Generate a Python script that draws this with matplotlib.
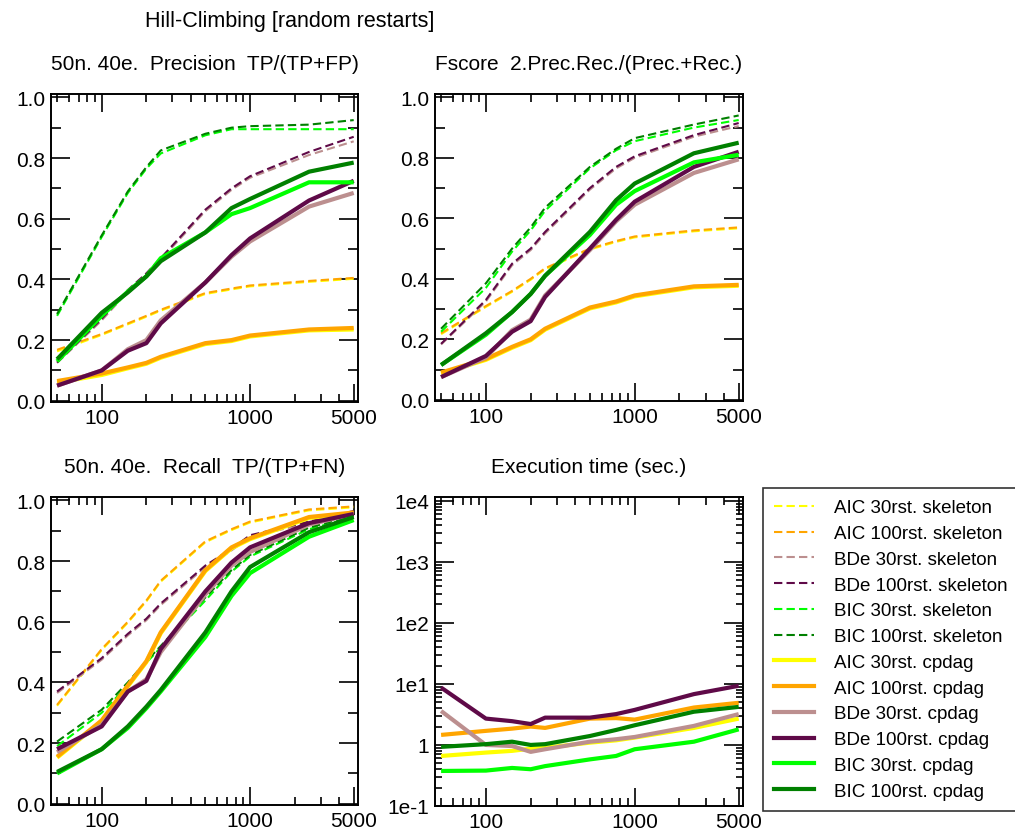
import numpy as np
import matplotlib
matplotlib.use("Agg")
import matplotlib.pyplot as plt
from matplotlib.ticker import FixedLocator, NullFormatter, LogLocator, FixedFormatter

plt.rcParams["font.family"] = ["Liberation Sans", "DejaVu Sans"]

# sample sizes
sizes = [50, 100, 150, 200, 250, 500, 750, 1000, 2500, 5000]

methods = ["AIC 30rst.", "AIC 100rst.", "BDe 30rst.", "BDe 100rst.", "BIC 30rst.", "BIC 100rst."]
colors = ["#ffff00", "#ffa500", "#bc8f8f", "#5f0a48", "#00ff00", "#008000"]

# Precision  (rows follow `methods`)
precision_skeleton = [
    [0.163, 0.217, 0.252, 0.277, 0.297, 0.352, 0.367, 0.377, 0.392, 0.402],
    [0.168, 0.22, 0.255, 0.28, 0.30, 0.355, 0.37, 0.38, 0.395, 0.405],
    [0.125, 0.265, 0.36, 0.415, 0.465, 0.625, 0.695, 0.735, 0.81, 0.855],
    [0.126, 0.27, 0.365, 0.42, 0.47, 0.63, 0.70, 0.74, 0.82, 0.87],
    [0.28, 0.54, 0.685, 0.765, 0.815, 0.875, 0.895, 0.895, 0.895, 0.895],
    [0.286, 0.545, 0.69, 0.77, 0.825, 0.88, 0.90, 0.905, 0.91, 0.925],
]
precision_cpdag = [
    [0.06, 0.085, 0.107, 0.122, 0.142, 0.187, 0.197, 0.212, 0.232, 0.235],
    [0.065, 0.09, 0.11, 0.125, 0.145, 0.19, 0.20, 0.215, 0.235, 0.24],
    [0.05, 0.10, 0.17, 0.20, 0.265, 0.39, 0.475, 0.525, 0.64, 0.685],
    [0.05, 0.10, 0.165, 0.19, 0.255, 0.39, 0.48, 0.535, 0.66, 0.725],
    [0.13, 0.28, 0.36, 0.41, 0.47, 0.555, 0.615, 0.635, 0.72, 0.72],
    [0.137, 0.29, 0.357, 0.41, 0.46, 0.555, 0.635, 0.665, 0.755, 0.785],
]

# Fscore
fscore_skeleton = [
    [0.217, 0.307, 0.357, 0.397, 0.432, 0.497, 0.522, 0.537, 0.557, 0.567],
    [0.22, 0.31, 0.36, 0.40, 0.435, 0.50, 0.525, 0.54, 0.56, 0.57],
    [0.183, 0.325, 0.445, 0.495, 0.55, 0.695, 0.765, 0.80, 0.87, 0.905],
    [0.185, 0.33, 0.45, 0.50, 0.555, 0.70, 0.77, 0.805, 0.875, 0.915],
    [0.225, 0.37, 0.49, 0.56, 0.625, 0.765, 0.825, 0.855, 0.90, 0.925],
    [0.235, 0.385, 0.50, 0.57, 0.635, 0.77, 0.83, 0.865, 0.91, 0.94],
]
fscore_cpdag = [
    [0.087, 0.132, 0.172, 0.197, 0.232, 0.302, 0.322, 0.342, 0.372, 0.377],
    [0.09, 0.135, 0.175, 0.20, 0.235, 0.305, 0.325, 0.345, 0.375, 0.38],
    [0.075, 0.14, 0.23, 0.265, 0.345, 0.495, 0.59, 0.645, 0.75, 0.795],
    [0.075, 0.145, 0.225, 0.26, 0.34, 0.50, 0.595, 0.655, 0.77, 0.82],
    [0.115, 0.215, 0.29, 0.35, 0.41, 0.545, 0.645, 0.69, 0.785, 0.81],
    [0.115, 0.22, 0.29, 0.35, 0.41, 0.555, 0.66, 0.715, 0.815, 0.85],
]

# Recall
recall_skeleton = [
    [0.323, 0.507, 0.597, 0.667, 0.732, 0.862, 0.902, 0.927, 0.967, 0.977],
    [0.326, 0.51, 0.60, 0.67, 0.735, 0.865, 0.905, 0.93, 0.97, 0.98],
    [0.365, 0.475, 0.555, 0.605, 0.655, 0.78, 0.835, 0.88, 0.925, 0.96],
    [0.37, 0.48, 0.56, 0.61, 0.66, 0.785, 0.84, 0.885, 0.93, 0.965],
    [0.19, 0.30, 0.39, 0.465, 0.515, 0.67, 0.765, 0.815, 0.905, 0.945],
    [0.205, 0.31, 0.40, 0.47, 0.52, 0.68, 0.77, 0.82, 0.91, 0.95],
]
recall_cpdag = [
    [0.152, 0.272, 0.387, 0.467, 0.562, 0.767, 0.842, 0.872, 0.942, 0.957],
    [0.155, 0.275, 0.39, 0.47, 0.565, 0.77, 0.845, 0.875, 0.945, 0.96],
    [0.17, 0.26, 0.37, 0.41, 0.50, 0.69, 0.785, 0.83, 0.92, 0.955],
    [0.18, 0.255, 0.37, 0.405, 0.51, 0.70, 0.795, 0.845, 0.925, 0.955],
    [0.10, 0.18, 0.25, 0.315, 0.37, 0.55, 0.685, 0.76, 0.88, 0.935],
    [0.105, 0.18, 0.255, 0.32, 0.375, 0.565, 0.70, 0.78, 0.895, 0.945],
]

# Execution time (sec.)
exec_time = [
    [0.66, 0.75, 0.80, 0.87, 0.90, 1.09, 1.19, 1.32, 1.9, 2.7],
    [1.46, 1.7, 1.85, 2.0, 1.9, 2.7, 2.75, 2.6, 4.1, 4.9],
    [3.6, 1.0, 0.96, 0.77, 0.85, 1.13, 1.24, 1.35, 2.05, 3.2],
    [8.7, 2.7, 2.45, 2.2, 2.8, 2.8, 3.2, 3.75, 6.8, 9.3],
    [0.375, 0.38, 0.42, 0.40, 0.45, 0.58, 0.66, 0.85, 1.13, 1.8],
    [0.93, 1.03, 1.13, 1.0, 1.03, 1.4, 1.76, 2.1, 3.5, 4.2],
]

titles = [
    "50n. 40e.  Precision  TP/(TP+FP)",
    "Fscore  2.Prec.Rec./(Prec.+Rec.)",
    "50n. 40e.  Recall  TP/(TP+FN)",
    "Execution time (sec.)",
]

W, H = 1015, 837
fig = plt.figure(figsize=(W / 100, H / 100), dpi=100)


def box(l, t, r, b):
    return [l / W, 1 - b / H, (r - l) / W, (b - t) / H]


ax_prec = fig.add_axes(box(51, 95, 358, 403))
ax_fs = fig.add_axes(box(435, 95, 743, 402))
ax_rec = fig.add_axes(box(51, 498, 358, 806))
ax_time = fig.add_axes(box(435, 498, 743, 807))

lw_solid = 3.0
lw_dash = 1.5

for ax, skel, cp in [(ax_prec, precision_skeleton, precision_cpdag),
                     (ax_fs, fscore_skeleton, fscore_cpdag),
                     (ax_rec, recall_skeleton, recall_cpdag)]:
    for vals, c in zip(skel, colors):
        ax.plot(sizes, vals, color=c, lw=lw_dash, dashes=(4, 2))
    for vals, c in zip(cp, colors):
        ax.plot(sizes, vals, color=c, lw=lw_solid, solid_capstyle="butt")
    ax.set_ylim(-0.004, 1.011)
    ax.yaxis.set_major_locator(FixedLocator([0, 0.2, 0.4, 0.6, 0.8, 1.0]))
    ax.yaxis.set_minor_locator(FixedLocator([0.1, 0.3, 0.5, 0.7, 0.9]))
    ax.yaxis.set_major_formatter(FixedFormatter(["0.0", "0.2", "0.4", "0.6", "0.8", "1.0"]))

for vals, c in zip(exec_time, colors):
    ax_time.plot(sizes, vals, color=c, lw=lw_solid, solid_capstyle="butt")
ax_time.set_yscale("log")
ax_time.set_ylim(0.1, 1.15e4)
ax_time.yaxis.set_major_locator(FixedLocator([0.1, 1, 10, 100, 1000, 10000]))
ax_time.yaxis.set_major_formatter(FixedFormatter(["1e-1", "1", "1e1", "1e2", "1e3", "1e4"]))
ax_time.yaxis.set_minor_locator(LogLocator(base=10, subs=np.arange(2, 10), numticks=20))
ax_time.yaxis.set_minor_formatter(NullFormatter())

for ax, t in zip([ax_prec, ax_fs, ax_rec, ax_time], titles):
    ax.set_xscale("log")
    ax.set_xlim(45.5, 5345)
    ax.xaxis.set_major_locator(FixedLocator([100, 1000, 5000]))
    ax.xaxis.set_major_formatter(FixedFormatter(["100", "1000", "5000"]))
    ax.xaxis.set_minor_locator(LogLocator(base=10, subs=np.arange(2, 10), numticks=20))
    ax.xaxis.set_minor_formatter(NullFormatter())
    ax.tick_params(which="both", direction="in", top=True, right=True,
                   width=1.2, labelsize=15, pad=4)
    ax.tick_params(axis="x", which="major", length=13)
    ax.tick_params(axis="x", which="minor", length=6)
    ax.tick_params(axis="y", which="major", length=14)
    ax.tick_params(axis="y", which="minor", length=7)
    for s in ax.spines.values():
        s.set_linewidth(1.4)
    ax.set_title(t, fontsize=15, pad=18)

ax_time.tick_params(axis="y", which="minor", length=5)

fig.text(290 / W, 1 - 21 / H, "Hill-Climbing [random restarts]", fontsize=15.5,
         ha="center", va="center")

# legend
handles = []
labels = []
for m, c in zip(methods, colors):
    handles.append(plt.Line2D([], [], color=c, lw=lw_dash, dashes=(4, 2)))
    labels.append(m + " skeleton")
for m, c in zip(methods, colors):
    handles.append(plt.Line2D([], [], color=c, lw=lw_solid))
    labels.append(m + " cpdag")
leg = fig.legend(handles, labels, loc="upper left",
                 bbox_to_anchor=(763 / W, 1 - 489 / H), borderaxespad=0,
                 fontsize=13.5, frameon=True, fancybox=False, edgecolor="black",
                 handlelength=2.1, handletextpad=1.1, labelspacing=0.46,
                 borderpad=0.6)
leg.get_frame().set_linewidth(1.2)

fig.savefig("out.png", dpi=100)
